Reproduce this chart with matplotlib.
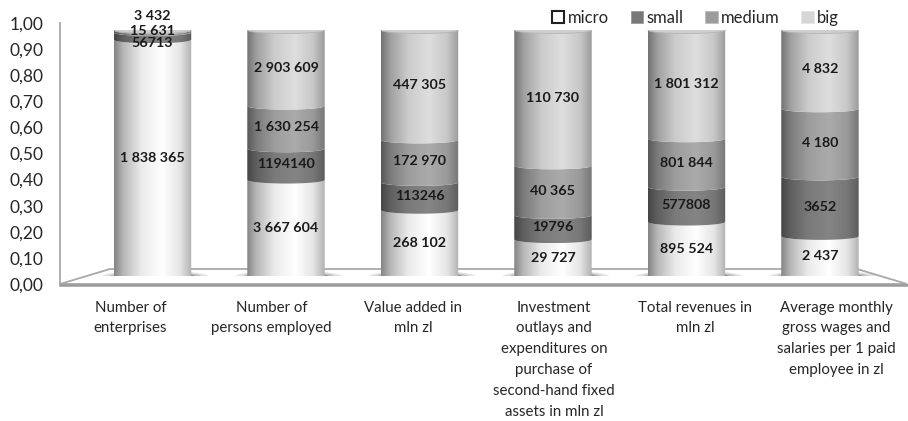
import matplotlib
matplotlib.use("Agg")
import matplotlib.pyplot as plt
from matplotlib.patches import Polygon, Ellipse, Patch
import numpy as np

plt.rcParams['font.family'] = ['Lato', 'DejaVu Sans']

# ---- data -------------------------------------------------------------
categories = [
    "Number of\nenterprises",
    "Number of\npersons employed",
    "Value added in\nmln zl",
    "Investment\noutlays and\nexpenditures on\npurchase of\nsecond-hand fixed\nassets in mln zl",
    "Total revenues in\nmln zl",
    "Average monthly\ngross wages and\nsalaries per 1 paid\nemployee in zl",
]
series_names = ["micro", "small", "medium", "big"]

# labels as printed on the bars; bar heights are shares of the column total
micro_lbl = ["1 838 365", "3 667 604", "268 102", "29 727", "895 524", "2 437"]
small_lbl = ["56713", "1194140", "113246", "19796", "577808", "3652"]
medium_lbl = ["15 631", "1 630 254", "172 970", "40 365", "801 844", "4 180"]
big_lbl = ["3 432", "2 903 609", "447 305", "110 730", "1 801 312", "4 832"]

labels = [micro_lbl, small_lbl, medium_lbl, big_lbl]
values = np.array([[int(s.replace(" ", "")) for s in row] for row in labels], dtype=float)
shares = values / values.sum(axis=0)

# ---- style ------------------------------------------------------------
colors = [(1.0, 1.0, 1.0), (0.52, 0.52, 0.52), (0.67, 0.67, 0.67), (0.87, 0.87, 0.87)]
text_col = "#262626"
floor_col = "#a9a9a9"
bar_w = 0.58
ell = 0.0145  # half-height of the cylinder ellipses (data units)

# nudges (pixels) for the crowded labels on the first column
label_nudge = {(0, 1): -7, (0, 2): 0, (0, 3): 14}

fig = plt.figure(figsize=(9.08, 4.21), dpi=100)
W, H = 908, 421

# front plane axes: ticks, category labels, floor
ax = fig.add_axes([60 / W, (H - 284) / H, 847 / W, 261 / H])
ax.set_xlim(-0.5, 5.5)
ax.set_ylim(0, 1)
for s in ax.spines.values():
    s.set_visible(False)
ax.set_yticks(np.arange(0, 1.01, 0.1))
ax.set_yticklabels([f"{v:.2f}".replace(".", ",") for v in np.arange(0, 1.01, 0.1)],
                   fontsize=12.5, color=text_col)
ax.set_xticks(range(len(categories)))
ax.set_xticklabels(categories, fontsize=10.8, color=text_col, linespacing=1.62, va="top")
ax.tick_params(axis="y", length=0, pad=12)
ax.tick_params(axis="x", length=0, pad=12)

# floor and the left edge line
ax.plot([0, 0], [0, 1.0], transform=ax.transAxes, color=floor_col, lw=1.3, clip_on=False)
floor = Polygon([(0, 0), (0.059, 0.0575), (0.941, 0.0575), (1.0, 0)], closed=True,
                transform=ax.transAxes, facecolor="white", edgecolor=floor_col,
                lw=1.3, clip_on=False)
ax.add_patch(floor)
ax.plot([0, 1], [-0.002, -0.002], transform=ax.transAxes, color="#9a9a9a", lw=1.8,
        clip_on=False)

# back plane axes: the cylinders
bx = fig.add_axes([60 / W, (H - 276) / H, 847 / W, 246 / H])
bx.patch.set_alpha(0)
bx.axis("off")


def shade_profile(n=120):
    t = np.linspace(0, 1, n)
    return np.interp(t, [0, 0.12, 0.35, 0.62, 0.85, 1.0],
                     [0.52, 0.72, 0.92, 1.0, 0.9, 0.7])


prof = shade_profile()


def segment(xc, y0, y1, color, top):
    t = np.linspace(-1, 1, 80)
    xs = xc + t * bar_w / 2
    arc = ell * np.sqrt(1 - t ** 2)
    bottom = np.column_stack([xs, y0 - arc])
    upper = y1 + arc if top else y1 - arc
    topline = np.column_stack([xs[::-1], upper[::-1]])
    poly = Polygon(np.vstack([bottom, topline]), closed=True, facecolor="none",
                   edgecolor="none")
    bx.add_patch(poly)
    img = np.clip(np.array(color)[None, None, :] * prof[None, :, None], 0, 1)
    im = bx.imshow(img, extent=[xc - bar_w / 2, xc + bar_w / 2, y0 - ell, y1 + ell],
                   aspect="auto", interpolation="bilinear", zorder=3)
    im.set_clip_path(poly)


for i in range(len(categories)):
    # soft shadow on the floor
    for k, a in zip([1.4, 1.22, 1.06], [0.14, 0.2, 0.35]):
        bx.add_patch(Ellipse((i + 0.02, -0.004), bar_w * k, ell * 2.6 * k,
                             facecolor="#383838", edgecolor="none", alpha=a, zorder=1))
    base = 0.0
    for j in range(len(series_names)):
        h = shares[j, i]
        segment(i, base, base + h, colors[j], top=(j == len(series_names) - 1))
        base += h
    cap_col = np.array(colors[-1]) * 0.93
    bx.add_patch(Ellipse((i, base), bar_w, 2 * ell, facecolor=cap_col,
                         edgecolor="#b5b5b5", lw=0.6, zorder=4))

# value labels
for i in range(len(categories)):
    base = 0.0
    for j in range(len(series_names)):
        h = shares[j, i]
        yc = base + h / 2
        base += h
        dy = label_nudge.get((i, j), 0) * 0.72
        bx.annotate(labels[j][i], (i, yc), xytext=(0, dy), textcoords="offset points",
                    ha="center", va="center", fontsize=10.3, fontweight="bold",
                    color="#1a1a1a", zorder=6)

bx.set_xlim(-0.693, 5.652)
bx.set_ylim(0, 1)

# legend
handles = [
    Patch(facecolor="white", edgecolor="#202020", lw=1.5),
    Patch(facecolor="#777777", edgecolor="#9a9a9a", lw=0.6),
    Patch(facecolor="#9c9c9c", edgecolor="#bdbdbd", lw=0.6),
    Patch(facecolor="#d6d6d6", edgecolor="#e6e6e6", lw=0.6),
]
fig.legend(handles, series_names, loc="center", bbox_to_anchor=(0.766, 0.958), ncol=4,
           frameon=False, fontsize=12, handlelength=0.75, handleheight=0.75,
           handletextpad=0.2, columnspacing=1.3, labelcolor=text_col)

fig.savefig("out.png", dpi=100)
